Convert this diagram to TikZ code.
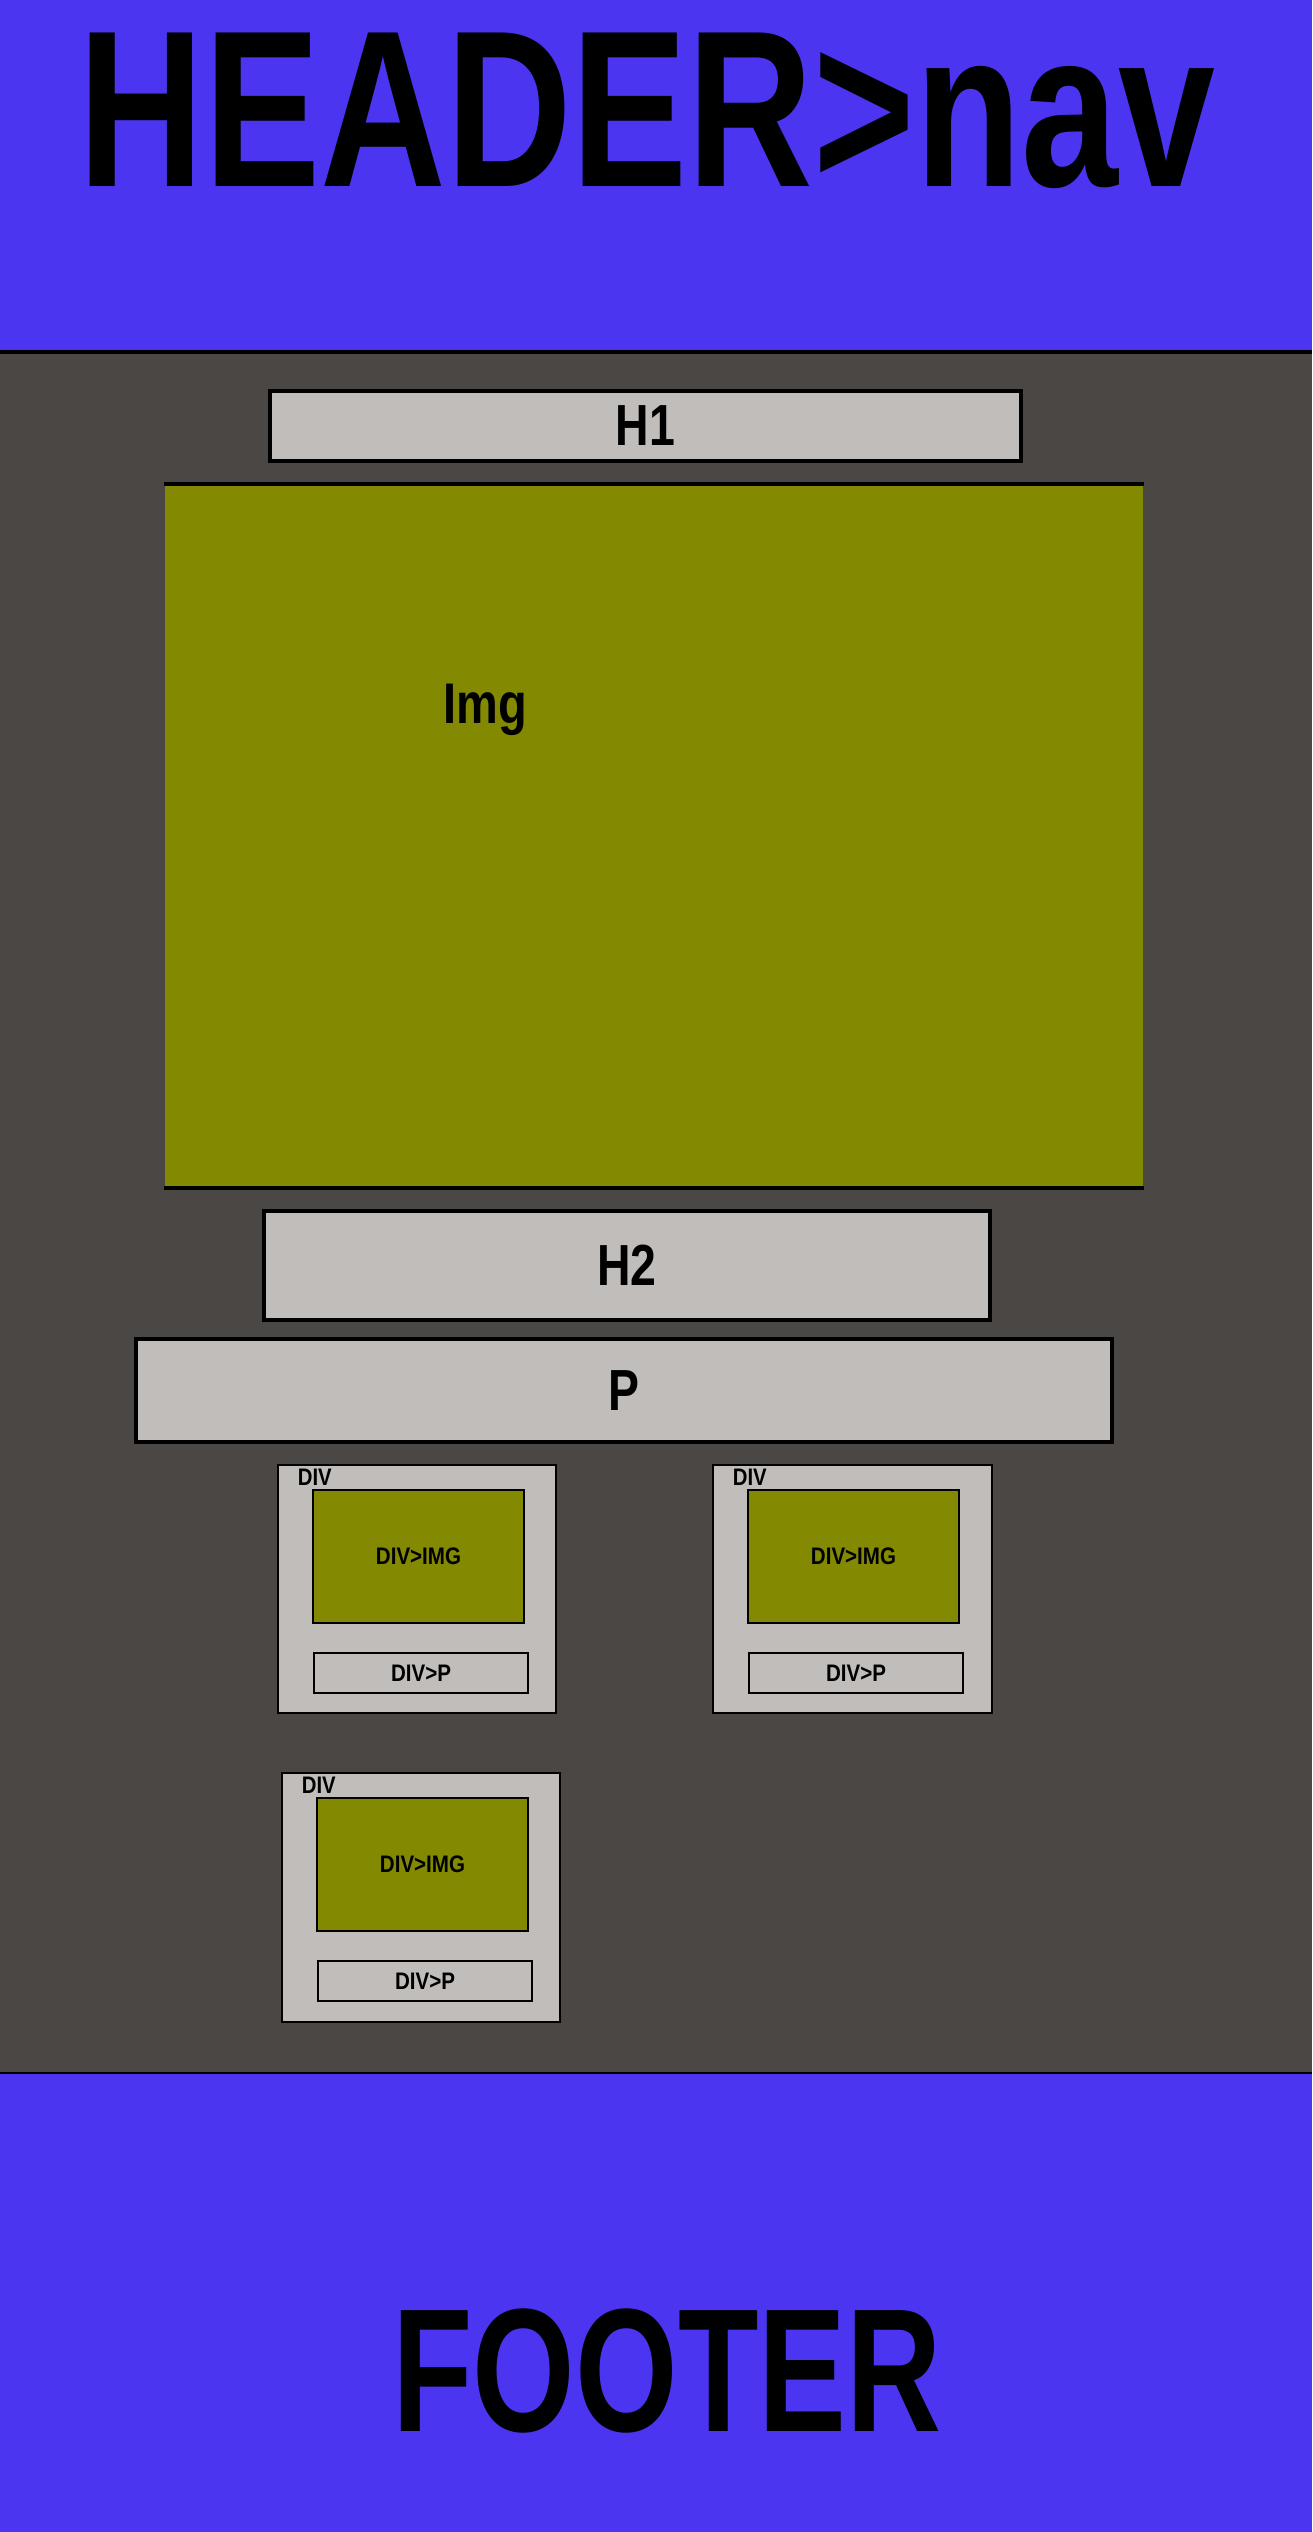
\documentclass[tikz,border=0pt]{standalone}
\usepackage{fontspec}
\setmainfont{Liberation Sans}
\usepackage{graphicx}
\usepackage{xcolor}
\usepackage{tikz}
\usetikzlibrary{positioning}

\definecolor{navblue}{RGB}{75,53,240}
\definecolor{pagegray}{RGB}{74,71,69}
\definecolor{boxgray}{RGB}{192,189,186}
\definecolor{imgolive}{RGB}{131,137,0}

\newcommand{\narrow}[2]{\scalebox{#1}[1]{#2}}

\tikzset{
  bigtext/.style={inner sep=0pt, anchor=base},
  bar/.style={draw=black, line width=1pt, fill=boxgray, inner sep=0pt,
    font=\fontsize{16.5}{18}\selectfont\bfseries},
  divbox/.style={draw=black, line width=0.45pt, fill=boxgray, inner sep=0pt},
  divimg/.style={draw=black, line width=0.45pt, fill=imgolive, inner sep=0pt,
    minimum width=21.1mm, minimum height=13.3mm, font=\fontsize{6.8}{8}\selectfont\bfseries},
  divp/.style={draw=black, line width=0.45pt, inner sep=0pt,
    minimum width=21.4mm, minimum height=4mm, font=\fontsize{6.8}{8}\selectfont\bfseries},
  divlbl/.style={inner sep=0pt, font=\fontsize{6.8}{8}\selectfont\bfseries}
}

\begin{document}
\begin{tikzpicture}[x=0.1mm, y=-0.1mm]

  \useasboundingbox (0,0) rectangle (1312,2532);
  \fill[pagegray] (0,0) rectangle (1312,2532);
  \fill[navblue] (0,0) rectangle (1312,352);
  \fill[navblue] (0,2073) rectangle (1312,2532);
  \draw[line width=1.3pt] (0,352) -- (1312,352);
  \draw[line width=0.8pt] (0,2073) -- (1312,2073);

  \node[bigtext, font=\fontsize{63.5}{70}\selectfont\bfseries] (hdr) at (647,186) {\narrow{0.78}{HEADER>nav}};
  \node[bigtext, font=\fontsize{50}{56}\selectfont\bfseries] (ftr) at (667,2431) {\narrow{0.75}{FOOTER}};

  \node[bar, minimum width=75.1mm, minimum height=7mm] (h1) at (645.5,426) {\narrow{0.8}{H1}};

  \node[fill=imgolive, inner sep=0pt, minimum width=97.8mm, minimum height=70.2mm] (img) at (654,836) {};
  \draw[line width=1.1pt] (img.north west) -- (img.north east);
  \draw[line width=1.1pt] (img.south west) -- (img.south east);
  \node[inner sep=0pt, anchor=base west, font=\fontsize{16.3}{18}\selectfont\bfseries] (imglbl) at (443,723) {\narrow{0.82}{Img}};

  \node[bar, minimum width=72.6mm, minimum height=10.9mm] (h2) at (627,1265.5) {\narrow{0.8}{H2}};
  \node[bar, minimum width=97.6mm, minimum height=10.3mm] (p) at (624,1390.5) {\narrow{0.8}{P}};

  \node[divbox, minimum width=27.8mm, minimum height=24.8mm] (d1) at (417,1589) {};
  \node[divlbl, below right=0.4mm and 2mm of d1.north west] (d1lbl) {\narrow{0.85}{DIV}};
  \node[divimg, below right=2.5mm and 3.5mm of d1.north west] (d1img) {\narrow{0.86}{DIV>IMG}};
  \node[divp, below right=18.8mm and 3.6mm of d1.north west] (d1p) {\narrow{0.86}{DIV>P}};

  \node[divbox, minimum width=27.9mm, minimum height=24.8mm] (d2) at (852.5,1589) {};
  \node[divlbl, below right=0.4mm and 2mm of d2.north west] (d2lbl) {\narrow{0.85}{DIV}};
  \node[divimg, below right=2.5mm and 3.5mm of d2.north west] (d2img) {\narrow{0.86}{DIV>IMG}};
  \node[divp, below right=18.8mm and 3.6mm of d2.north west] (d2p) {\narrow{0.86}{DIV>P}};

  \node[divbox, minimum width=27.8mm, minimum height=24.9mm] (d3) at (421,1897.5) {};
  \node[divlbl, below right=0.4mm and 2mm of d3.north west] (d3lbl) {\narrow{0.85}{DIV}};
  \node[divimg, below right=2.5mm and 3.5mm of d3.north west] (d3img) {\narrow{0.86}{DIV>IMG}};
  \node[divp, below right=18.8mm and 3.6mm of d3.north west] (d3p) {\narrow{0.86}{DIV>P}};

\end{tikzpicture}
\end{document}
